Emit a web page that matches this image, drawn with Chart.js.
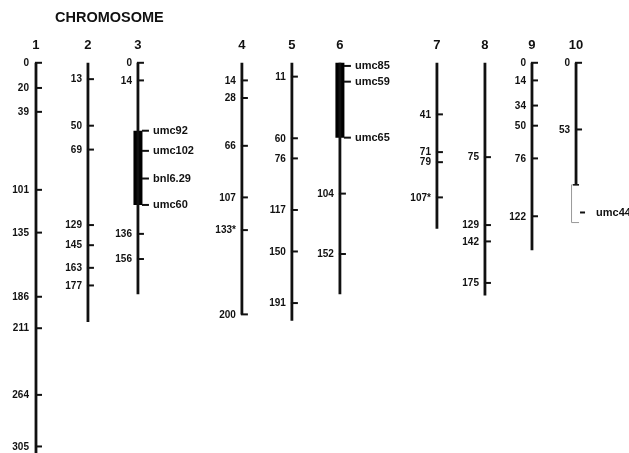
<!DOCTYPE html>
<html><head><meta charset="utf-8">
<script src="https://cdn.jsdelivr.net/npm/chart.js@4.4.0/dist/chart.umd.min.js"></script>
<style>html,body{margin:0;padding:0;background:#fff}#wrap{width:629px;height:453px;position:relative}</style>
</head><body><div id="wrap"><canvas id="c"></canvas></div>
<script>
// ---- data (map positions in cM) ----
const chromosomes = ['1','2','3','4','5','6','7','8','9','10'];
const chromLength = [320, 206, 184, 200, 205, 184, 132, 185, 149, 97];
const lociPos = [
  [0,20,39,101,135,186,211,264,305],
  [13,50,69,129,145,163,177],
  [0,14,136,156],
  [14,28,66,107,133,200],
  [11,60,76,117,150,191],
  [104,152],
  [41,71,79,107],
  [75,129,142,175],
  [0,14,34,50,76,122],
  [0,53]
];
const lociLabels = [
  ['0','20','39','101','135','186','211','264','305'],
  ['13','50','69','129','145','163','177'],
  ['0','14','136','156'],
  ['14','28','66','107','133*','200'],
  ['11','60','76','117','150','191'],
  ['104','152'],
  ['41','71','79','107*'],
  ['75','129','142','175'],
  ['0','14','34','50','76','122'],
  ['0','53']
];
const markerNames = [[],[],['umc92','umc102','bnl6.29','umc60'],[],[],['umc85','umc59','umc65'],[],[],[],['umc44']];
const markerPos   = [[],[],[54,70,92,113],[],[],[2.5,15,59.5],[],[],[],[119]];
const blockRange  = [null,null,[54,113],null,null,[0,59.5],null,null,null,null];
const bracketRange = [null,null,null,null,null,null,null,null,null,[97,127]];
const title = 'CHROMOSOME';

// ---- layout (nominal column positions on the x axis) ----
const chromX = [0, 1.05, 2.06, 4.16, 5.17, 6.14, 8.1, 9.07, 10.02, 10.91];

const FONT = '"Liberation Sans", Arial, sans-serif';
const datasets = [];
chromosomes.forEach((c,i)=>{
  datasets.push({type:'line', data:[{x:chromX[i],y:0},{x:chromX[i],y:chromLength[i]}],
    borderColor:'#111', borderWidth:2.8, pointRadius:0, borderCapStyle:'butt', showLine:true});
  if (blockRange[i]) datasets.push({type:'line', data:[{x:chromX[i],y:blockRange[i][0]},{x:chromX[i],y:blockRange[i][1]}],
    borderColor:'#000', borderWidth:9, pointRadius:0, borderCapStyle:'butt', showLine:true});
});

const mapPlugin = {
  id:'mapPlugin',
  afterDatasetsDraw(chart){
    const ctx = chart.ctx, xs = chart.scales.x, ys = chart.scales.y;
    ctx.save();
    ctx.fillStyle = '#111';
    ctx.font = 'bold 14.5px ' + FONT;
    ctx.textAlign = 'left'; ctx.textBaseline = 'middle';
    ctx.fillText(title, 55, 18);
    chromosomes.forEach((c,i)=>{
      const cx = xs.getPixelForValue(chromX[i]);
      ctx.fillStyle = '#111';
      ctx.font = 'bold 13px ' + FONT;
      ctx.textAlign = 'center';
      ctx.fillText(c, cx, 45);
      // loci ticks + labels
      ctx.strokeStyle = '#111'; ctx.lineWidth = 2;
      ctx.font = 'bold 10px ' + FONT;
      ctx.textAlign = 'right';
      lociPos[i].forEach((v,j)=>{
        const py = ys.getPixelForValue(v);
        ctx.beginPath(); ctx.moveTo(cx-1, py); ctx.lineTo(cx+6, py); ctx.stroke();
        ctx.fillText(lociLabels[i][j], cx-(i===0?7:6), py+0.5);
      });
      // bracket
      if (bracketRange[i]) {
        const y0 = ys.getPixelForValue(bracketRange[i][0]), y1 = ys.getPixelForValue(bracketRange[i][1]);
        ctx.strokeStyle = '#999'; ctx.lineWidth = 1;
        ctx.beginPath(); ctx.moveTo(cx+3, y0); ctx.lineTo(cx-4.5, y0); ctx.lineTo(cx-4.5, y1); ctx.lineTo(cx+3, y1); ctx.stroke();
        ctx.strokeStyle = '#111'; ctx.lineWidth = 1.5;
        ctx.beginPath(); ctx.moveTo(cx-3, y0); ctx.lineTo(cx+3, y0); ctx.stroke();
      }
      // markers
      ctx.font = 'bold 11px ' + FONT;
      ctx.textAlign = 'left';
      markerPos[i].forEach((v,j)=>{
        const py = ys.getPixelForValue(v);
        ctx.strokeStyle = '#111'; ctx.lineWidth = 2;
        const a = cx+4;
        const b = bracketRange[i] ? cx+9 : cx+11;
        ctx.beginPath(); ctx.moveTo(a, py); ctx.lineTo(b, py); ctx.stroke();
        ctx.fillText(markerNames[i][j], bracketRange[i] ? cx+20 : cx+15, py+0.5);
      });
    });
    ctx.restore();
  }
};

new Chart(document.getElementById('c'), {
  type:'scatter',
  data:{datasets},
  options:{
    responsive:true, maintainAspectRatio:false, animation:false,
    layout:{padding:0},
    plugins:{legend:{display:false}, tooltip:{enabled:false}, title:{display:false}},
    scales:{
      x:{type:'linear', display:false, min:-0.727, max:11.98},
      y:{type:'linear', display:false, reverse:true, min:-49.92, max:310.2}
    }
  },
  plugins:[mapPlugin]
});
</script></body></html>
